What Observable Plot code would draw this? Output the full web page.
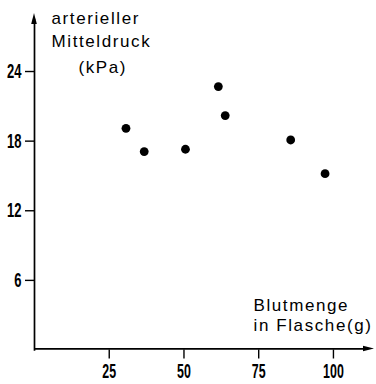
<!DOCTYPE html>
<html>
<head>
<meta charset="utf-8">
<script src="https://cdn.jsdelivr.net/npm/d3@7"></script>
<script src="https://cdn.jsdelivr.net/npm/@observablehq/plot@0.6"></script>
<style>
  html, body { margin: 0; padding: 0; background: #fff; }
  svg { display: block; }
</style>
</head>
<body>
<div id="chart"></div>
<script>
// Data
const blutmenge = [30.6, 36.7, 50.5, 61.5, 63.8, 85.7, 97.2];   // g
const mitteldruck = [19.1, 17.1, 17.3, 22.7, 20.2, 18.1, 15.2]; // kPa
const xTicks = [25, 50, 75, 100];
const yTicks = [6, 12, 18, 24];
const yLabel = "arterieller\nMitteldruck";
const yUnit = "(kPa)";
const xLabel = "Blutmenge\nin Flasche(g)";

const points = blutmenge.map((x, i) => ({x, y: mitteldruck[i]}));
const xMax = 113.4, yMax = 29;
const numFont = "'Liberation Sans', Arial, sans-serif";
const textFont = "'Liberation Sans', Arial, Helvetica, sans-serif";

// arrowheads at the ends of the axes, drawn through the scales
function arrows(index, scales) {
  const g = d3.create("svg:g").attr("fill", "#000");
  const x0 = scales.x(0), y0 = scales.y(0);
  const xt = scales.x(xMax) + 1, yt = scales.y(yMax);
  g.append("path").attr("d", `M${x0},${yt} L${x0 - 2.8},${yt + 11} L${x0 + 2.8},${yt + 11} Z`);
  g.append("path").attr("d", `M${xt},${y0 - 1} L${xt - 11},${y0 - 3.8} L${xt - 11},${y0 + 1.8} Z`);
  return g.node();
}

const chart = Plot.plot({
  width: 376,
  height: 384,
  marginLeft: 34,
  marginRight: 3,
  marginTop: 13,
  marginBottom: 34.5,
  x: {domain: [0, xMax]},
  y: {domain: [0, yMax]},
  style: {background: "#fff", color: "#000"},
  marks: [
    Plot.ruleX([0], {y1: -0.1, y2: yMax - 0.5, strokeWidth: 1.7}),
    Plot.ruleY([0.1], {x1: 0, x2: xMax - 2, strokeWidth: 1.7}),
    arrows,
    Plot.axisX({ticks: xTicks, tickSize: 9, tickPadding: 5, label: null,
      fontSize: 20, fontFamily: numFont, fontWeight: "bold", strokeWidth: 1.4}),
    Plot.axisY({ticks: yTicks, tickSize: 9, tickPadding: 4, label: null,
      fontSize: 21, fontFamily: numFont, fontWeight: "bold", strokeWidth: 1.4}),
    Plot.dot(points, {x: "x", y: "y", r: 4.4, fill: "#000", stroke: null}),
    Plot.text([yLabel], {frameAnchor: "top-left", textAnchor: "start", lineAnchor: "top",
      dx: 17, dy: -6, fontSize: 17, fontFamily: textFont, lineHeight: 1.35}),
    Plot.text([yUnit], {frameAnchor: "top-left", textAnchor: "start", lineAnchor: "top",
      dx: 44, dy: 47, fontSize: 17, fontFamily: textFont}),
    Plot.text([xLabel], {frameAnchor: "bottom-right", textAnchor: "start", lineAnchor: "bottom",
      dx: -120, dy: -19, fontSize: 17, fontFamily: textFont, lineHeight: 1.2})
  ]
});

// condensed tick numerals and letter-spaced titles, as in the original typesetting
const tickStrings = new Set([...xTicks, ...yTicks].map(String));
const titleWords = ["arterieller", "Mitteldruck", "(kPa)", "Blutmenge"];
d3.select(chart).selectAll("text").each(function() {
  const t = this.textContent.trim();
  if (tickStrings.has(t) && !this.querySelector("tspan")) {
    const tr = this.getAttribute("transform") || "";
    this.setAttribute("transform", tr + " scale(0.62,1)");
  } else if (titleWords.some(w => t.includes(w))) {
    this.setAttribute("letter-spacing", "1.6px");
  }
});
document.getElementById("chart").appendChild(chart);
</script>
</body>
</html>
